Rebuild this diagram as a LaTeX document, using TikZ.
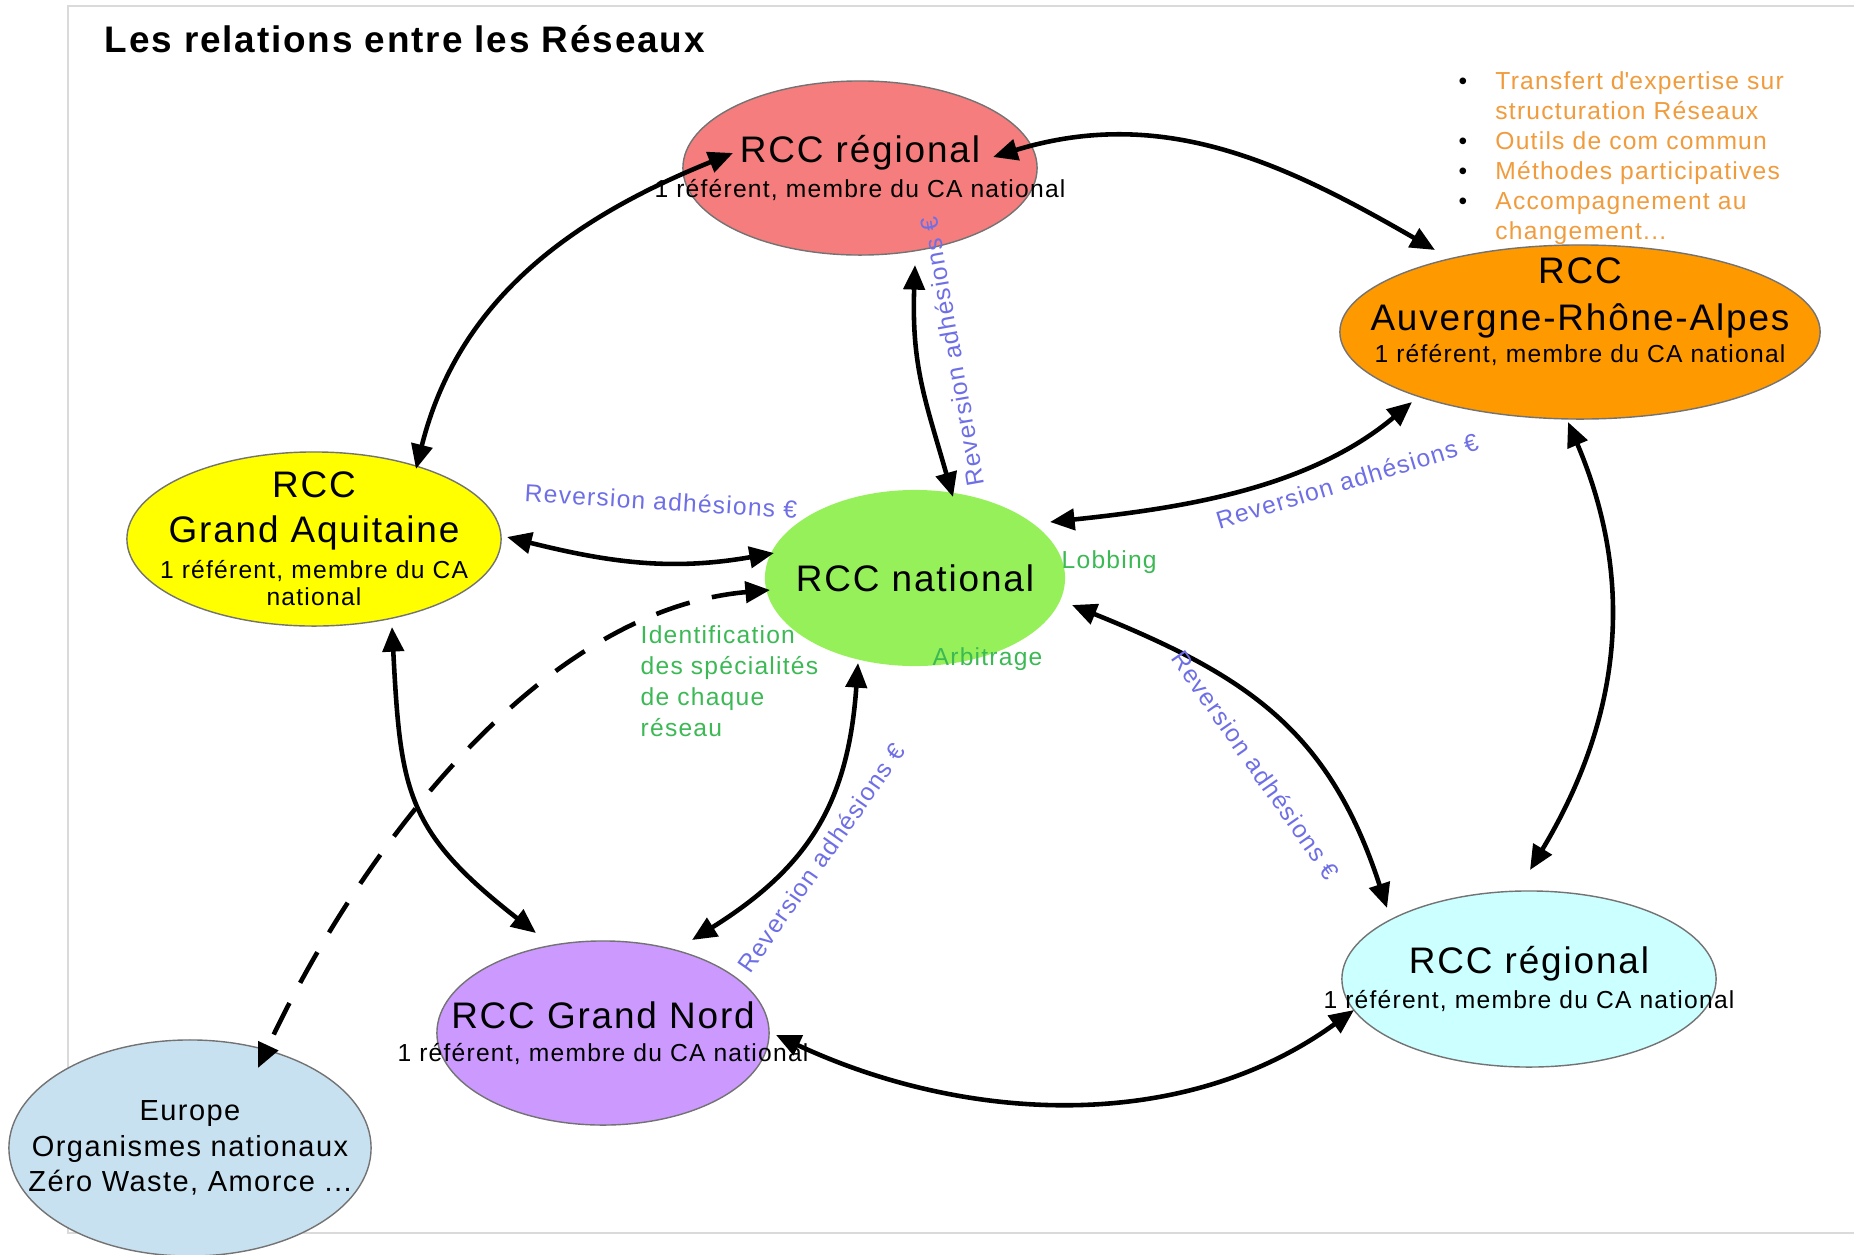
\documentclass[tikz,border=0pt]{standalone}
\usepackage{fontspec}
\setmainfont{Liberation Sans}[LetterSpace=5]
\usetikzlibrary{shapes.geometric,arrows.meta,calc}

\definecolor{fondrouge}{RGB}{245,125,125}
\definecolor{fondorange}{RGB}{255,153,0}
\definecolor{fondjaune}{RGB}{255,255,0}
\definecolor{fondvert}{RGB}{150,240,90}
\definecolor{fondviolet}{RGB}{204,153,255}
\definecolor{fondcyan}{RGB}{204,255,255}
\definecolor{fondbleu}{RGB}{200,225,240}
\definecolor{txtbleu}{RGB}{110,110,230}
\definecolor{txtvert}{RGB}{60,185,85}
\definecolor{txtorange}{RGB}{240,155,60}
\definecolor{cadre}{RGB}{218,218,218}

\newcommand\txtgrand{\fontsize{10.5}{12.6}\selectfont}
\newcommand\txtpetit{\fontsize{7}{8}\selectfont}
\newcommand\txtliste{\fontsize{7}{8.5}\selectfont}

\tikzset{
	reseau/.style={ellipse, draw=black!55, line width=0.4pt, inner sep=0pt},
	texte/.style={align=center, inner sep=0pt, font=\txtpetit},
	titre/.style={inner sep=0pt, font=\bfseries\txtgrand},
	fleche/.style={>={Triangle[length=7pt,width=6pt]}, <->, line width=1.3pt},
	reversion/.style={text=txtbleu, font=\txtpetit, inner sep=0pt},
	vert/.style={text=txtvert, font=\fontsize{7}{8.8}\selectfont, inner sep=0pt, align=left},
}

\begin{document}
\begin{tikzpicture}[x=0.01cm, y=-0.01cm]
	\useasboundingbox (0,0) rectangle (1854,1254);
	\draw[cadre, line width=0.8pt] (1854,6) -- (68,6) -- (68,1233) -- (1854,1233);

	\node[titre, anchor=base west] (titre) at (104,52) {Les relations entre les Réseaux};

	\node[reseau, fill=fondrouge, minimum width=3.54cm, minimum height=1.74cm] (topreg) at (860,168) {};
	\node[reseau, fill=fondorange, minimum width=4.80cm, minimum height=1.74cm] (auv) at (1580,332) {};
	\node[reseau, fill=fondjaune, minimum width=3.74cm, minimum height=1.74cm] (aquit) at (314,539) {};
	\node[reseau, fill=fondvert, draw=none, minimum width=3.00cm, minimum height=1.76cm] (nat) at (915,578) {};
	\node[reseau, fill=fondviolet, minimum width=3.32cm, minimum height=1.84cm] (nord) at (603,1033) {};
	\node[reseau, fill=fondcyan, minimum width=3.74cm, minimum height=1.76cm] (botreg) at (1529,979) {};
	\node[reseau, fill=fondbleu, minimum width=3.62cm, minimum height=2.16cm] (europe) at (190,1148) {};

	\node[texte] (topreg-t) at (topreg) {{\txtgrand RCC régional}\\[1.7pt]1 référent, membre du CA national};
	\node[texte, yshift=0.2cm] (auv-t) at (auv) {{\txtgrand RCC}\\[5.4pt]{\txtgrand Auvergne-Rhône-Alpes}\\[1.1pt]1 référent, membre du CA national};
	\node[texte] (aquit-t) at (aquit) {{\txtgrand RCC}\\[4.8pt]{\txtgrand Grand Aquitaine}\\[2.2pt]1 référent, membre du CA\\[-0.3pt]national};
	\node[texte] (nat-t) at (nat) {\txtgrand RCC national};
	\node[texte] (nord-t) at (nord) {{\txtgrand RCC Grand Nord}\\[1.4pt]1 référent, membre du CA national};
	\node[texte] (botreg-t) at (botreg) {{\txtgrand RCC régional}\\[1.7pt]1 référent, membre du CA national};
	\node[texte, font=\fontsize{8.25}{10}\selectfont] (europe-t) at (europe) {Europe\\Organismes nationaux\\Zéro Waste, Amorce ...};

	\node[anchor=north west, inner sep=0pt, text=txtorange, font=\txtliste] (liste) at (1458,68) {\begin{tabular}{@{}l@{\hspace{8pt}}l@{}}
		{\color{black}\textbullet} & Transfert d\textquotesingle expertise sur\\
		& structuration Réseaux\\
		{\color{black}\textbullet} & Outils de com commun\\
		{\color{black}\textbullet} & Méthodes participatives\\
		{\color{black}\textbullet} & Accompagnement au\\
		& changement...
	\end{tabular}};

	\draw[fleche] ($(aquit)+(102,-70)$) to[out=76, in=202] ($(topreg)+(-127,-15)$);
	\draw[fleche] ($(topreg)+(133,-11)$) to[out=17, in=150] ($(auv)+(-145,-82)$);
	\draw[fleche] ($(topreg)+(55,97)$) to[out=-92, in=106, looseness=1.1] ($(nat)+(38,-81)$);
	\draw[fleche] ($(aquit)+(193,-2)$) to[out=-14, in=190] ($(nat)+(-141,-25)$);
	\draw[fleche, dash pattern=on 10pt off 6.5pt] ($(nat)+(-145,12)$) to[out=185, in=65, looseness=0.85] ($(europe)+(68,-80)$);
	\draw[fleche] ($(nat)+(135,-56)$) to[out=6, in=220, looseness=0.9] ($(auv)+(-168,70)$);
	\draw[fleche] ($(nat)+(157,27)$) to[out=-22, in=108, looseness=1.1] ($(botreg)+(-142,-71)$);
	\draw[fleche] ($(auv)+(-12,90)$) to[out=-67, in=59] ($(botreg)+(1,-109)$);
	\draw[fleche] ($(aquit)+(78,88)$) to[out=-87, in=142, looseness=1.25] ($(nord)+(-67,-100)$);
	\draw[fleche] ($(nat)+(-57,85)$) to[out=-94, in=32, looseness=1.1] ($(nord)+(89,-93)$);
	\draw[fleche] ($(nord)+(173,2)$) to[out=-25, in=216, looseness=0.93] ($(botreg)+(-175,31)$);

	\node[reversion, rotate=-3.5] (rev-aquit) at (661,501) {Reversion adhésions €};
	\node[reversion, rotate=100] (rev-topreg) at (952,352) {Reversion adhésions €};
	\node[reversion, rotate=17] (rev-auv) at (1347,481) {Reversion adhésions €};
	\node[reversion, rotate=-55] (rev-botreg) at (1256,765) {Reversion adhésions €};
	\node[reversion, rotate=55] (rev-nord) at (821,858) {Reversion adhésions €};

	\node[vert, anchor=base west] (lobbing) at (1061,568) {Lobbing};
	\node[vert, anchor=base west] (arbitrage) at (932,665) {Arbitrage};
	\node[vert, anchor=north west] (identif) at (640,625) {Identification\\des spécialités\\de chaque\\réseau};
\end{tikzpicture}
\end{document}
